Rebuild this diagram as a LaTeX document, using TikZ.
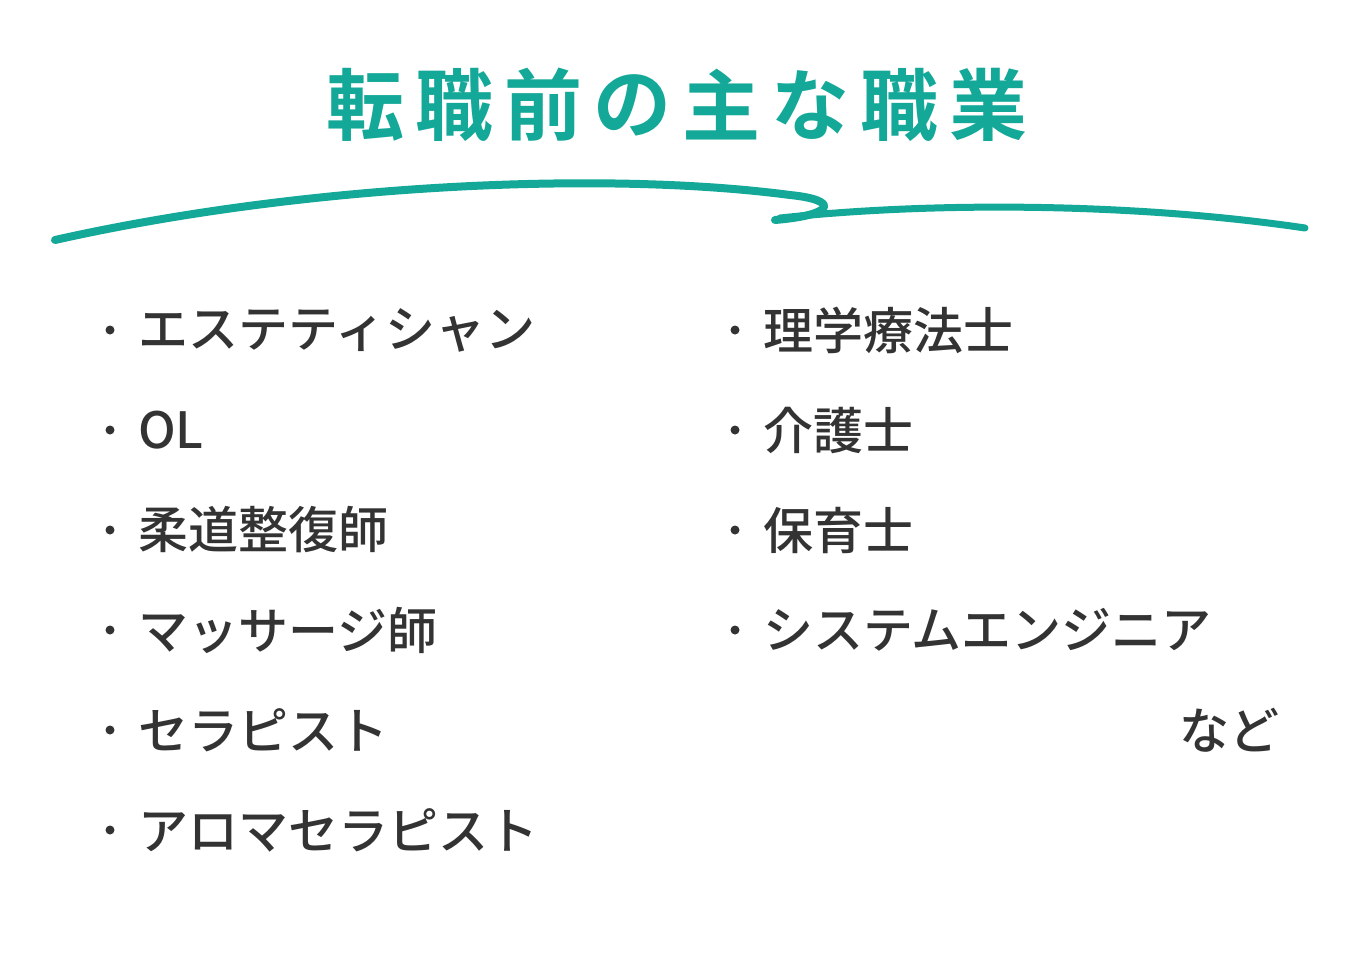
\documentclass[tikz,border=0pt]{standalone}
\usepackage{fontspec}
\newfontfamily\jpb{Noto Sans CJK JP Bold}
\newfontfamily\jp{Noto Sans CJK JP Medium}
\definecolor{teal1}{HTML}{13A898}
\definecolor{txt}{HTML}{333333}
\begin{document}
\begin{tikzpicture}[x=1pt,y=-1pt,
  ttl/.style={font=\jpb\fontsize{78}{80}\selectfont,text=teal1,inner sep=0},
  item/.style={font=\jp\fontsize{50}{52}\selectfont,text=txt,anchor=west,inner sep=0},
  dot/.style={circle,fill=txt,inner sep=0,minimum size=9pt}]
\useasboundingbox (0,0) rectangle (1372,977);
\foreach \c [count=\i] in {転,職,前,の,主,な,職,業}
  \node[ttl] (t\i) at ({365+89*(\i-1)},105) {\c};
\draw[teal1,line width=8pt,line cap=round,line join=round]
  (55,240) .. controls (300,185) and (600,170) .. (790,195)
  .. controls (840,200) and (835,215) .. (775,220);
\draw[teal1,line width=7pt,line cap=round]
  (780,218) .. controls (950,200) and (1150,205) .. (1305,228);
\foreach \t [count=\i] in {エステティシャン,OL,柔道整復師,マッサージ師,セラピスト,アロマセラピスト}{
  \node[dot] (l\i) at (110,{330+100*(\i-1)}) {};
  \node[item] (lt\i) at (138,{330+100*(\i-1)}) {\t};}
\foreach \t [count=\i] in {理学療法士,介護士,保育士,システムエンジニア}{
  \node[dot] (r\i) at (735,{330+100*(\i-1)}) {};
  \node[item] (rt\i) at (763,{330+100*(\i-1)}) {\t};}
\node[item,anchor=east] (etc) at (1280,730) {など};
\end{tikzpicture}
\end{document}
